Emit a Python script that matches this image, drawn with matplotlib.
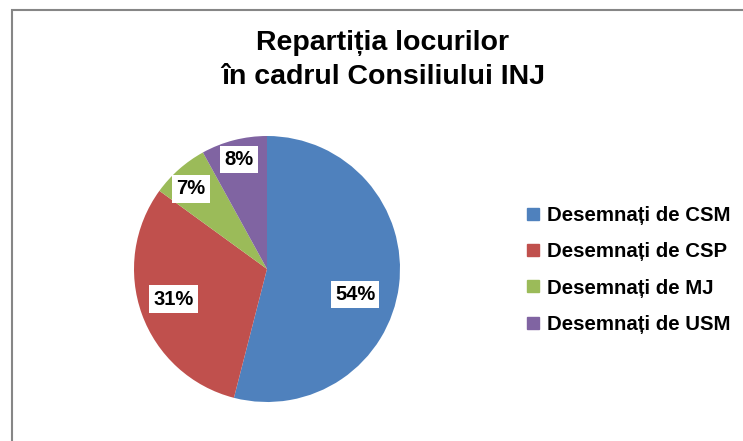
import numpy as np
import matplotlib.pyplot as plt
from matplotlib.patches import Rectangle

plt.rcParams['font.family'] = ['Liberation Sans', 'DejaVu Sans']

labels = ["Desemnați de CSM", "Desemnați de CSP", "Desemnați de MJ", "Desemnați de USM"]
values = [54, 31, 7, 8]
colors = ["#4F81BD", "#C0504D", "#9BBB59", "#8064A2"]

fig = plt.figure(figsize=(7.43, 4.41), dpi=100)

# border of the chart area
fig.patches.append(Rectangle((11.5 / 743, -0.1), 1.2, 1.1 - 9.5 / 441,
                             transform=fig.transFigure, fill=False,
                             edgecolor="#868686", linewidth=1.5))

fig.text(383 / 743, 1 - 60 / 441, "Repartiția locurilor\nîn cadrul Consiliului INJ",
         ha="center", va="center", fontsize=20.5, fontweight="bold", linespacing=1.38)

# pie axes: center ~ (267, 269) px, radius ~ 133 px
cx, cy, r = 267, 269, 133
ax = fig.add_axes([(cx - r) / 743, (441 - cy - r) / 441, 2 * r / 743, 2 * r / 441])
wedges, _ = ax.pie(values, colors=colors, startangle=90, counterclock=False,
                   wedgeprops=dict(linewidth=0))
ax.set_xlim(-1, 1)
ax.set_ylim(-1, 1)
ax.set_aspect("equal")

# label placement (distance from center, angle shift in degrees)
dist = [0.69, 0.74, 0.83, 0.85]
shift = [-9, -2, 2, 0]
for w, v, d, s in zip(wedges, values, dist, shift):
    ang = np.deg2rad((w.theta1 + w.theta2) / 2 + s)
    ax.text(d * np.cos(ang), d * np.sin(ang), f"{v}%", ha="center", va="center",
            fontsize=14.5, fontweight="bold",
            bbox=dict(facecolor="white", edgecolor="none", pad=3))

handles = [plt.Line2D([], [], marker="s", linestyle="none", markersize=8,
                      markerfacecolor=c, markeredgecolor=c) for c in colors]
fig.legend(handles, labels, loc="center left", bbox_to_anchor=(506 / 743, 1 - 270 / 441),
           frameon=False, prop=dict(size=14.7, weight="bold"), labelspacing=0.84,
           handlelength=0.8, handletextpad=0.3)

fig.savefig("out.png", dpi=100)
